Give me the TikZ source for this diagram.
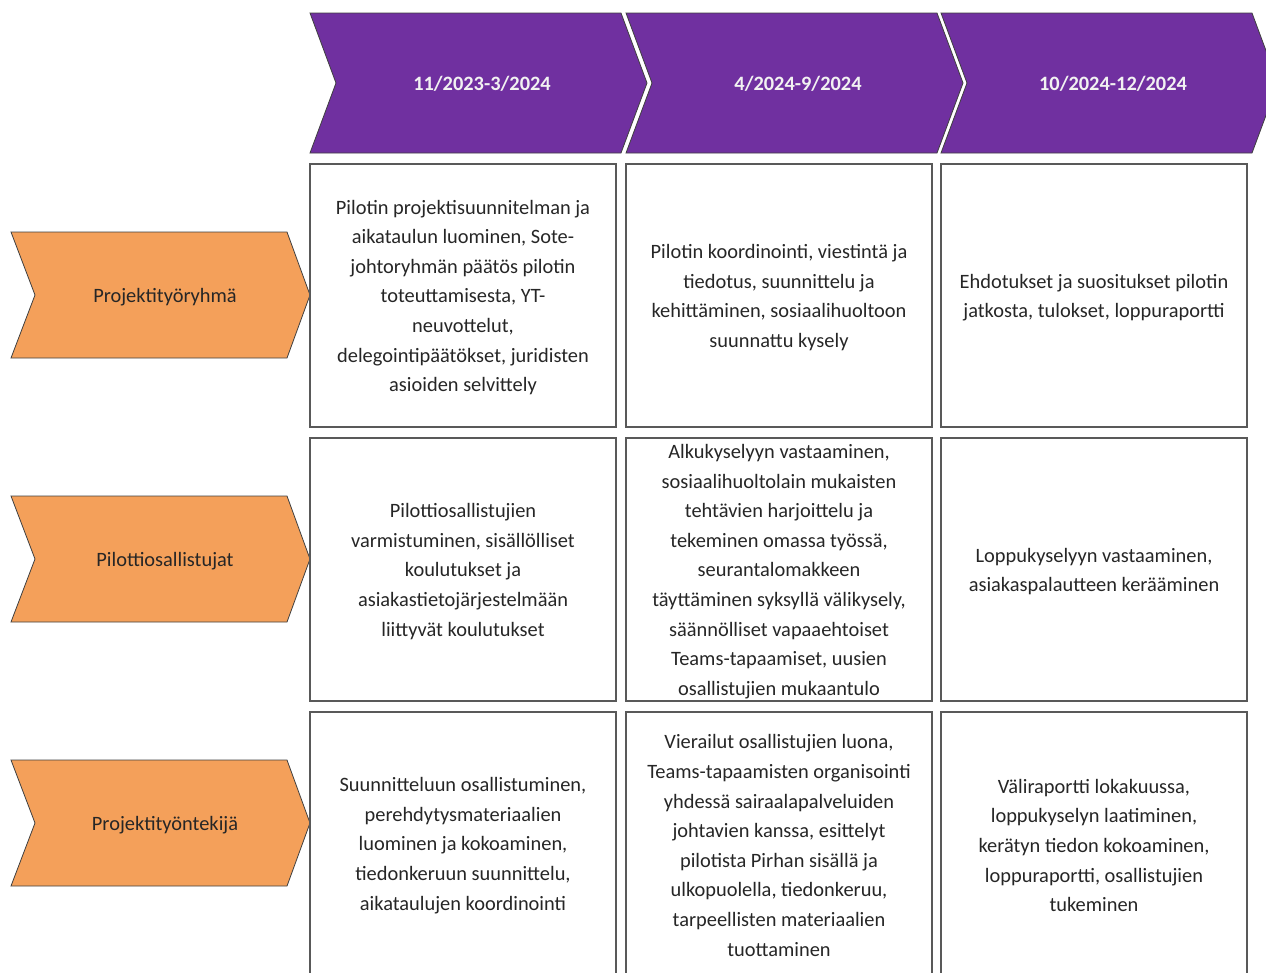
\documentclass[tikz,border=0pt]{standalone}
\usepackage{fontspec}
\setmainfont{Carlito}
\definecolor{phase}{HTML}{7030A0}
\definecolor{role}{HTML}{F4A05A}
\definecolor{txt}{HTML}{262626}
\begin{document}
\begin{tikzpicture}[x=0.75pt,y=-0.75pt,
  phasebox/.style={fill=phase,draw=black!75,line width=0.6pt,line join=miter},
  rolebox/.style={fill=role,draw=black!75,line width=0.6pt,line join=miter},
  cellbox/.style={draw=black!65,line width=1pt,fill=white},
  celltext/.style={align=center,text=txt,inner sep=0pt,font=\fontsize{15.3}{22.2}\selectfont},
  phasetext/.style={align=center,text=white!95!black,inner sep=0pt,font=\bfseries\fontsize{15.3}{22.2}\selectfont},
  roletext/.style={align=center,text=txt,inner sep=0pt,font=\fontsize{15.3}{22.2}\selectfont}]
\useasboundingbox (0,0) rectangle (1266,972);
\clip (0,0) rectangle (1266,972);

% phase chevrons along the top
\foreach \L/\nm/\lab in {310/h1/{11/2023-3/2024},626/h2/{4/2024-9/2024},941/h3/{10/2024-12/2024}}{
  \draw[phasebox] (\L,13) -- (\L+311,13) -- (\L+337,83) -- (\L+311,153)
     -- (\L,153) -- (\L+26,83) -- cycle;
  \node[phasetext] (\nm) at (\L+172,84) {\lab};
}

% role chevrons on the left
\foreach \y/\nm/\lab in {295/r1/Projektityöryhmä,559/r2/Pilottiosallistujat,823/r3/Projektityöntekijä}{
  \draw[rolebox] (11,\y-63) -- (287,\y-63) -- (310,\y) -- (287,\y+63)
     -- (11,\y+63) -- (35,\y) -- cycle;
  \node[roletext] (\nm) at (165,\y+2) {\lab};
}

% grid of task cells
\foreach \L in {310,626,941}{
  \foreach \T in {164,438,712}{
    \draw[cellbox] (\L,\T) rectangle (\L+306,\T+263);
  }
}

\node[celltext] (c11) at (463,297.5) {Pilotin projektisuunnitelman ja\\aikataulun luominen, Sote-\\johtoryhmän päätös pilotin\\toteuttamisesta, YT-\\neuvottelut,\\delegointipäätökset, juridisten\\asioiden selvittely};
\node[celltext] (c12) at (779,297.5) {Pilotin koordinointi, viestintä ja\\tiedotus, suunnittelu ja\\kehittäminen, sosiaalihuoltoon\\suunnattu kysely};
\node[celltext] (c13) at (1094,297.5) {Ehdotukset ja suositukset pilotin\\jatkosta, tulokset, loppuraportti};

\node[celltext] (c21) at (463,571.5) {Pilottiosallistujien\\varmistuminen, sisällölliset\\koulutukset ja\\asiakastietojärjestelmään\\liittyvät koulutukset};
\node[celltext] (c22) at (779,571.5) {Alkukyselyyn vastaaminen,\\sosiaalihuoltolain mukaisten\\tehtävien harjoittelu ja\\tekeminen omassa työssä,\\seurantalomakkeen\\täyttäminen syksyllä välikysely,\\säännölliset vapaaehtoiset\\Teams-tapaamiset, uusien\\osallistujien mukaantulo};
\node[celltext] (c23) at (1094,571.5) {Loppukyselyyn vastaaminen,\\asiakaspalautteen kerääminen};

\node[celltext] (c31) at (463,845.5) {Suunnitteluun osallistuminen,\\perehdytysmateriaalien\\luominen ja kokoaminen,\\tiedonkeruun suunnittelu,\\aikataulujen koordinointi};
\node[celltext] (c32) at (779,845.5) {Vierailut osallistujien luona,\\Teams-tapaamisten organisointi\\yhdessä sairaalapalveluiden\\johtavien kanssa, esittelyt\\pilotista Pirhan sisällä ja\\ulkopuolella, tiedonkeruu,\\tarpeellisten materiaalien\\tuottaminen};
\node[celltext] (c33) at (1094,845.5) {Väliraportti lokakuussa,\\loppukyselyn laatiminen,\\kerätyn tiedon kokoaminen,\\loppuraportti, osallistujien\\tukeminen};
\end{tikzpicture}
\end{document}
